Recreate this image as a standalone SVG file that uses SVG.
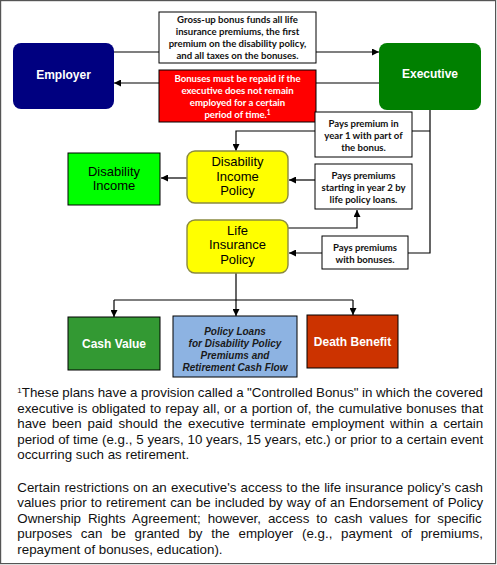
<svg xmlns="http://www.w3.org/2000/svg" width="497" height="565" viewBox="0 0 497 565">
<style>
.frame{fill:#fff;stroke:#555;stroke-width:1.2}
.box{stroke:#000;stroke-width:1}
.wbox{fill:#fff;stroke:#000;stroke-width:1}
.ybox{fill:#ffff00;stroke:#8a8a40;stroke-width:1.4}
.big{font-family:"Liberation Sans",Arial,sans-serif;font-weight:bold;font-size:12px;fill:#fff;text-anchor:middle}
.reg{font-family:"Liberation Sans",Arial,sans-serif;font-size:13px;fill:#000;text-anchor:middle}
.sm{font-family:Lato,"Liberation Sans",sans-serif;font-weight:bold;font-size:9.6px;fill:#111;text-anchor:middle}
.smw{font-family:Lato,"Liberation Sans",sans-serif;font-weight:bold;font-size:9.6px;fill:#fff;text-anchor:middle}
.it{font-family:"Liberation Sans",Arial,sans-serif;font-weight:bold;font-style:italic;font-size:10px;fill:#1a1a1a;text-anchor:middle}
.fn{font-family:"Liberation Sans",Arial,sans-serif;font-size:13.33px;fill:#111}
.conn{fill:none;stroke:#000;stroke-width:1.2}
</style>
<defs>
<marker id="ah" viewBox="0 0 10 10" refX="10" refY="5" markerWidth="8" markerHeight="7" markerUnits="userSpaceOnUse" orient="auto">
<path d="M0,0 L10,5 L0,10 z" fill="#000"/>
</marker>
</defs>
<rect class="frame" x="0.6" y="0.6" width="495" height="563"/>
<g id="connectors">
<path class="conn" d="M114,52 H379" marker-end="url(#ah)"/>
<path class="conn" d="M379,83 H114" marker-end="url(#ah)"/>
<path class="conn" d="M430,110 V253 H289" marker-end="url(#ah)"/>
<path class="conn" d="M430,131 H236 V151" marker-end="url(#ah)"/>
<path class="conn" d="M187,178 H161" marker-end="url(#ah)"/>
<path class="conn" d="M315,180 H289" marker-end="url(#ah)"/>
<path class="conn" d="M288,228 H357 V210" marker-end="url(#ah)"/>
<path class="conn" d="M236,273 V316" marker-end="url(#ah)"/>
<path class="conn" d="M114,300 H353"/>
<path class="conn" d="M114,300 V317" marker-end="url(#ah)"/>
<path class="conn" d="M353,300 V315" marker-end="url(#ah)"/>
</g>
<g id="employer">
<rect x="13" y="43" width="101" height="66" rx="8" fill="#000080"/>
<text class="big" x="63.5" y="79">Employer</text>
</g>
<g id="executive">
<rect x="379" y="43" width="102" height="67" rx="8" fill="#008000"/>
<text class="big" x="430" y="78">Executive</text>
</g>
<g id="grossup">
<rect class="wbox" x="159" y="12" width="157" height="51"/>
<text class="sm" x="237.5" y="23">Gross-up bonus funds all life</text>
<text class="sm" x="237.5" y="35.2">insurance premiums, the first</text>
<text class="sm" x="237.5" y="47.4">premium on the disability policy,</text>
<text class="sm" x="237.5" y="59.4">and all taxes on the bonuses.</text>
</g>
<g id="repaid">
<rect class="box" x="159" y="70" width="157" height="52" fill="#ff0000"/>
<text class="smw" x="237.5" y="82">Bonuses must be repaid if the</text>
<text class="smw" x="237.5" y="94">executive does not remain</text>
<text class="smw" x="237.5" y="106">employed for a certain</text>
<text class="smw" x="237.5" y="118">period of time.<tspan font-size="6.5px" dy="-3.5">1</tspan></text>
</g>
<g id="paysyear1">
<rect class="wbox" x="315" y="112" width="97" height="45"/>
<text class="sm" x="363.5" y="126.5">Pays premium in</text>
<text class="sm" x="363.5" y="138.5">year 1 with part of</text>
<text class="sm" x="363.5" y="150.5">the bonus.</text>
</g>
<g id="paysyear2">
<rect class="wbox" x="315" y="164" width="97" height="45"/>
<text class="sm" x="363.5" y="178.5">Pays premiums</text>
<text class="sm" x="363.5" y="190.5">starting in year 2 by</text>
<text class="sm" x="363.5" y="202.5">life policy loans.</text>
</g>
<g id="payswithbonuses">
<rect class="wbox" x="322" y="236" width="86" height="33"/>
<text class="sm" x="365" y="250.5">Pays premiums</text>
<text class="sm" x="365" y="262.5">with bonuses.</text>
</g>
<g id="disabilitypolicy">
<rect class="ybox" x="187" y="151" width="101" height="52" rx="8"/>
<text class="reg" x="237.5" y="166">Disability</text>
<text class="reg" x="237.5" y="180.5">Income</text>
<text class="reg" x="237.5" y="195">Policy</text>
</g>
<g id="disabilityincome">
<rect class="box" x="68" y="153" width="92" height="52" fill="#00ff00"/>
<text class="reg" x="114" y="176">Disability</text>
<text class="reg" x="114" y="190">Income</text>
</g>
<g id="lifepolicy">
<rect class="ybox" x="187" y="220" width="101" height="53" rx="8"/>
<text class="reg" x="237.5" y="234.5">Life</text>
<text class="reg" x="237.5" y="249">Insurance</text>
<text class="reg" x="237.5" y="263.5">Policy</text>
</g>
<g id="cashvalue">
<rect class="box" x="68" y="317" width="92" height="53" fill="#339933"/>
<text class="big" x="114" y="347.5">Cash Value</text>
</g>
<g id="policyloans">
<rect class="box" x="173" y="316" width="124" height="61" fill="#8db3e2"/>
<text class="it" x="235" y="334.5">Policy Loans</text>
<text class="it" x="235" y="346.5">for Disability Policy</text>
<text class="it" x="235" y="358.5">Premiums and</text>
<text class="it" x="235" y="370.5">Retirement Cash Flow</text>
</g>
<g id="deathbenefit">
<rect class="box" x="307" y="315" width="91" height="53" fill="#cc3300"/>
<text class="big" x="352.5" y="346">Death Benefit</text>
</g>
<g id="footnote">
<text class="fn" x="17.3" y="397" word-spacing="-0.2"><tspan font-size="8px" dy="-4">1</tspan><tspan dy="4">These plans have a provision called a "Controlled Bonus" in which the covered</tspan></text>
<text class="fn" x="17.3" y="412.6" word-spacing="0.5">executive is obligated to repay all, or a portion of, the cumulative bonuses that</text>
<text class="fn" x="17.3" y="428.2" word-spacing="2.14">have been paid should the executive terminate employment within a certain</text>
<text class="fn" x="17.3" y="443.8" word-spacing="0.09">period of time (e.g., 5 years, 10 years, 15 years, etc.) or prior to a certain event</text>
<text class="fn" x="17.3" y="459.4">occurring such as retirement.</text>
<text class="fn" x="17.3" y="491.5" word-spacing="0.44">Certain restrictions on an executive's access to the life insurance policy’s cash</text>
<text class="fn" x="17.3" y="507.1" word-spacing="0.45">values prior to retirement can be included by way of an Endorsement of Policy</text>
<text class="fn" x="17.3" y="522.7" word-spacing="3.2">Ownership Rights Agreement; however, access to cash values for specific</text>
<text class="fn" x="17.3" y="538.3" word-spacing="5.0">purposes can be granted by the employer (e.g., payment of premiums,</text>
<text class="fn" x="17.3" y="553.9">repayment of bonuses, education).</text>
</g>
</svg>
